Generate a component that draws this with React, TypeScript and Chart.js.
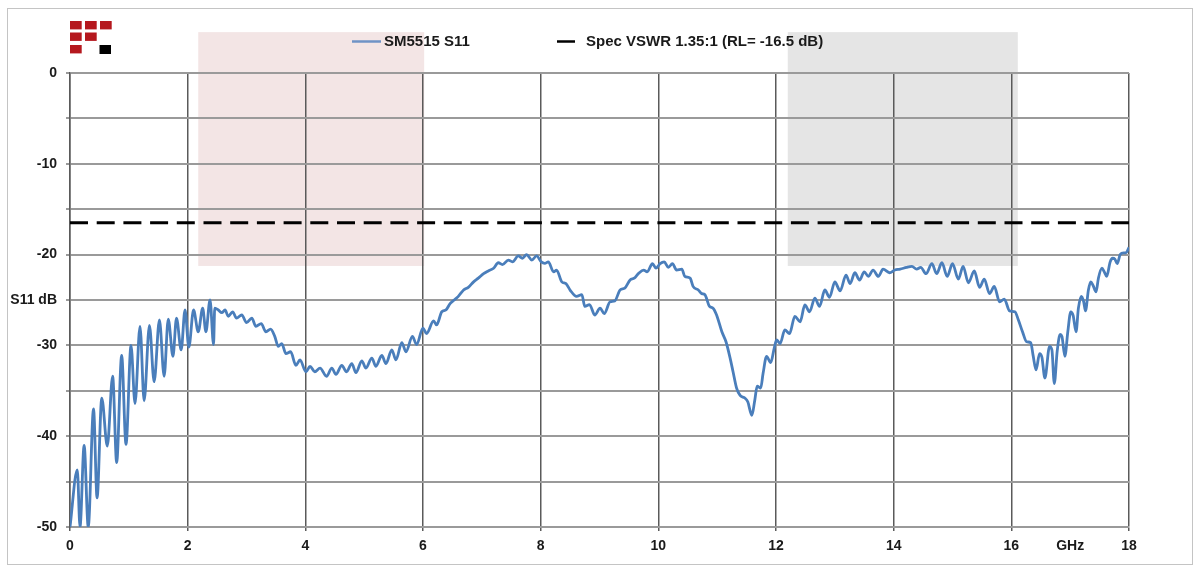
import React, { useEffect, useRef } from "react";
import { Chart, registerables } from "chart.js";

Chart.register(...registerables);

const freq: number[] = [
  0, 0.124, 0.17, 0.24, 0.31, 0.4, 0.46, 0.54, 0.634, 0.725, 0.793, 0.878, 0.952, 1.037, 1.105, 1.19, 1.26, 1.35, 1.43, 1.52,
  1.6, 1.67, 1.75, 1.81, 1.89, 1.955, 2.02, 2.1, 2.18, 2.255, 2.31, 2.38, 2.44, 2.46, 2.52,
  2.58, 2.635, 2.69, 2.765, 2.83, 2.92, 3.0, 3.09, 3.16, 3.25, 3.33, 3.41, 3.48, 3.54, 3.6, 3.67, 3.75, 3.84, 3.91, 4.01,
  4.08, 4.16, 4.25, 4.36, 4.45, 4.52, 4.62, 4.7, 4.79, 4.86, 4.96, 5.03, 5.13, 5.2, 5.3, 5.37, 5.47, 5.54, 5.64, 5.71,
  5.82, 5.89, 6.0, 6.06, 6.18, 6.23, 6.32, 6.39, 6.46, 6.53, 6.6, 6.69, 6.77, 6.86, 6.94, 7.03, 7.11, 7.2, 7.28, 7.35,
  7.45, 7.52, 7.62, 7.69, 7.76, 7.85, 7.93, 8.01, 8.07, 8.13, 8.22, 8.27, 8.36, 8.43, 8.5, 8.61, 8.7, 8.75, 8.83, 8.92,
  9.01, 9.08, 9.18, 9.26, 9.35, 9.43, 9.52, 9.59, 9.66, 9.75, 9.81, 9.9, 9.96, 10.03, 10.1, 10.17, 10.24, 10.31, 10.4,
  10.45, 10.54, 10.59, 10.68, 10.74, 10.79, 10.87, 10.93, 10.99, 11.08, 11.15, 11.22, 11.27, 11.33, 11.39, 11.47, 11.52,
  11.59, 11.64, 11.68, 11.74, 11.78, 11.84, 11.91, 11.97, 12.01, 12.07, 12.15, 12.23, 12.32, 12.41, 12.49, 12.57, 12.66,
  12.74, 12.83, 12.91, 13.0, 13.09, 13.19, 13.26, 13.34, 13.42, 13.5, 13.57, 13.65, 13.74, 13.82, 13.93, 14.02, 14.11,
  14.22, 14.31, 14.39, 14.46, 14.55, 14.65, 14.73, 14.82, 14.91, 15.0, 15.1, 15.18, 15.27, 15.37, 15.46, 15.54, 15.63,
  15.71, 15.8, 15.88, 15.97, 16.06, 16.12, 16.19, 16.26, 16.33, 16.37, 16.42, 16.48, 16.52, 16.57, 16.65, 16.69, 16.73,
  16.78, 16.83, 16.86, 16.91, 16.96, 17.01, 17.05, 17.1, 17.14, 17.19, 17.23, 17.26, 17.31, 17.35, 17.39, 17.44, 17.48,
  17.54, 17.58, 17.62, 17.68, 17.72, 17.76, 17.8, 17.85, 17.91, 17.95, 18.0,
];

const s11: number[] = [
  -50, -43.7, -50, -41.0, -50, -37.0, -46.8, -35.8, -41.1, -33.4, -42.9, -31.1, -40.9, -30.0, -36.4, -27.9, -36.1, -27.8, -34.0, -27.2,
  -33.4, -27.1, -31.2, -27.0, -30.5, -26.1, -30.2, -26.1, -28.5, -25.9, -28.5, -25.0, -29.9, -25.9, -26.1,
  -26.4, -26.1, -26.8, -26.3, -27.0, -26.65, -27.5, -27.0, -27.9, -27.6, -28.5, -28.2, -29.0, -30.1, -29.8, -30.9, -30.7, -32.2, -31.6, -32.9,
  -32.3, -32.9, -32.5, -33.4, -32.5, -33.2, -32.2, -32.9, -32.0, -33.0, -31.7, -32.5, -31.4, -32.3, -31.1, -32.0, -30.5, -31.6, -29.7, -30.7,
  -29.0, -29.9, -28.1, -28.7, -27.3, -27.75, -26.3, -26.1, -25.4, -25.0, -24.6, -23.9, -23.6, -23.0, -22.6, -22.1, -21.8, -21.5, -20.9, -21.1,
  -20.6, -20.8, -20.15, -20.4, -20.0, -20.6, -20.15, -20.8, -20.96, -20.8, -21.9, -21.7, -23.0, -23.2, -23.9, -24.6, -24.4, -25.7, -25.5, -26.65,
  -25.9, -26.5, -25.2, -25.1, -23.9, -23.7, -22.8, -22.6, -22.1, -21.7, -21.9, -21.0, -21.5, -21.0, -20.8, -21.4, -21.0, -21.7, -21.6,
  -22.4, -22.6, -23.5, -23.9, -24.3, -24.4, -25.7, -25.9, -26.65, -28.5, -29.6, -31.4, -32.9, -34.7, -35.5, -35.8, -36.2,
  -37.7, -36.0, -34.5, -34.7, -33.1, -31.2, -31.9, -30.3, -29.4, -29.8, -28.3, -28.7, -26.8, -27.4, -25.55, -26.3, -24.8,
  -25.7, -23.9, -24.7, -23.0, -24.0, -22.25, -23.2, -22.0, -22.8, -21.9, -22.4, -21.7, -22.4, -21.6, -22.0, -21.7, -21.6,
  -21.4, -21.3, -21.6, -21.4, -22.1, -21.0, -22.1, -20.9, -22.4, -21.0, -22.7, -21.3, -23.1, -21.8, -23.6, -22.7, -24.3,
  -23.5, -25.2, -24.9, -26.2, -26.3, -27.2, -28.5, -29.6, -29.7, -31.1, -32.7, -30.9, -31.3, -33.6, -30.1, -30.5, -34.2,
  -30.6, -28.8, -29.0, -31.2, -28.5, -26.3, -26.7, -28.5, -25.9, -24.6, -25.2, -26.2, -23.9, -23.0, -23.4, -24.1, -22.6,
  -21.5, -21.9, -22.4, -20.8, -20.4, -20.5, -21.0, -20.0, -19.8, -19.8, -19.2,
];

// Specification limit line
const specFreq: number[] = [0, 18];
const specLevel: number[] = [-16.5, -16.5];

// Shaded frequency bands (GHz) and their vertical extent (dB)
const bandStart: number[] = [2.18, 12.2];
const bandEnd: number[] = [6.02, 16.11];
const bandColors: string[] = ["#f3e5e5", "#e5e5e5"];
const bandTop = 4.5;
const bandBottom = -21.25;

// Axis tick labels
const xLabels: Record<number, string> = {
  0: "0", 2: "2", 4: "4", 6: "6", 8: "8", 10: "10", 12: "12", 14: "14", 16: "16", 17: "GHz", 18: "18",
};
const yLabels: Record<number, string> = {
  0: "0", [-10]: "-10", [-20]: "-20", [-25]: "S11 dB", [-30]: "-30", [-40]: "-40", [-50]: "-50",
};

const seriesNames: string[] = ["SM5515 S11", "Spec VSWR 1.35:1 (RL= -16.5 dB)"];

const FONT = "'Liberation Sans', Arial, sans-serif";
const BLUE = "#4a7ebb";

const decorPlugin = {
  id: "decor",
  beforeDraw(chart: any) {
    const { ctx } = chart;
    const xs = chart.scales.x;
    const ys = chart.scales.y;
    ctx.save();
    ctx.fillStyle = "#ffffff";
    ctx.fillRect(0, 0, chart.width, chart.height);
    // outer frame
    ctx.strokeStyle = "#c4c4c4";
    ctx.lineWidth = 1;
    ctx.strokeRect(7.5, 8.5, 1185, 556);
    // bands
    for (let i = 0; i < bandStart.length; i++) {
      const x1 = xs.getPixelForValue(bandStart[i]);
      const x2 = xs.getPixelForValue(bandEnd[i]);
      const y1 = ys.getPixelForValue(bandTop);
      const y2 = ys.getPixelForValue(bandBottom);
      ctx.fillStyle = bandColors[i];
      ctx.fillRect(x1, y1, x2 - x1, y2 - y1);
    }
    // logo
    const red = "#b5181e";
    const cols = [70, 85, 100];
    const rows = [21, 32.5, 45];
    const w = 11.7;
    const h = 8.4;
    const cells: [number, number][] = [[0, 0], [1, 0], [2, 0], [0, 1], [1, 1], [0, 2]];
    ctx.fillStyle = red;
    cells.forEach(([c, r]) => ctx.fillRect(cols[c], rows[r], w, h));
    ctx.fillStyle = "#000000";
    ctx.fillRect(99.5, 45, 11.5, 9);
    ctx.restore();
  },
  afterDraw(chart: any) {
    const { ctx } = chart;
    ctx.save();
    const y = 41.5;
    ctx.font = `bold 15px ${FONT}`;
    ctx.textBaseline = "middle";
    ctx.textAlign = "left";
    ctx.fillStyle = "#1a1a1a";
    // item 1
    ctx.strokeStyle = "#6f93c6";
    ctx.lineWidth = 2.5;
    ctx.beginPath();
    ctx.moveTo(352, y);
    ctx.lineTo(381, y);
    ctx.stroke();
    ctx.fillText(seriesNames[0], 384, y);
    // item 2
    ctx.strokeStyle = "#000000";
    ctx.lineWidth = 2.5;
    ctx.beginPath();
    ctx.moveTo(557, y);
    ctx.lineTo(575, y);
    ctx.stroke();
    ctx.fillText(seriesNames[1], 586, y);
    ctx.restore();
  },
};

export default function App() {
  const canvasRef = useRef<HTMLCanvasElement | null>(null);

  useEffect(() => {
    if (!canvasRef.current) return;
    const chart = new Chart(canvasRef.current, {
      type: "line",
      data: {
        datasets: [
          {
            label: seriesNames[0],
            data: freq.map((f, i) => ({ x: f, y: s11[i] })),
            borderColor: BLUE,
            borderWidth: 2.8,
            pointRadius: 0,
            cubicInterpolationMode: "monotone",
            fill: false,
          },
          {
            label: seriesNames[1],
            data: specFreq.map((f, i) => ({ x: f, y: specLevel[i] })),
            borderColor: "#000000",
            borderWidth: 3,
            borderDash: [18, 8.7],
            pointRadius: 0,
            fill: false,
          },
        ],
      },
      options: {
        animation: false,
        responsive: true,
        maintainAspectRatio: false,
        layout: { padding: { left: 0, right: 71, top: 73, bottom: 0 } },
        plugins: {
          legend: { display: false },
          tooltip: { enabled: false },
        },
        scales: {
          x: {
            type: "linear",
            min: 0,
            max: 18,
            afterFit: (scale: any) => {
              scale.height = 45;
            },
            ticks: {
              stepSize: 1,
              autoSkip: false,
              maxRotation: 0,
              padding: 7,
              color: "#1a1a1a",
              font: { family: FONT, size: 14, weight: "bold" },
              callback: (v: any) => xLabels[Number(v)] ?? "",
            },
            grid: {
              color: (c: any) => (c.tick && Math.round(c.tick.value) % 2 === 0 ? "#5a5a5a" : "rgba(0,0,0,0)"),
              tickColor: (c: any) => (c.tick && Math.round(c.tick.value) % 2 === 0 ? "#5a5a5a" : "rgba(0,0,0,0)"),
              lineWidth: 1.5,
              tickLength: 4,
            },
            border: { display: true, color: "#9a9a9a", width: 2 },
          },
          y: {
            type: "linear",
            min: -50,
            max: 0,
            afterFit: (scale: any) => {
              scale.width = 70;
            },
            ticks: {
              stepSize: 5,
              autoSkip: false,
              padding: 9,
              color: "#1a1a1a",
              font: { family: FONT, size: 14, weight: "bold" },
              callback: (v: any) => yLabels[Number(v)] ?? "",
            },
            grid: {
              color: "#9a9a9a",
              tickColor: "#9a9a9a",
              lineWidth: 2,
              tickLength: 4,
            },
            border: { display: true, color: "#5a5a5a", width: 1.5 },
          },
        },
      },
      plugins: [decorPlugin],
    });
    return () => chart.destroy();
  }, []);

  return (
    <div style={{ position: "fixed", left: 0, top: 0, width: 1200, height: 572 }}>
      <canvas ref={canvasRef} />
    </div>
  );
}
